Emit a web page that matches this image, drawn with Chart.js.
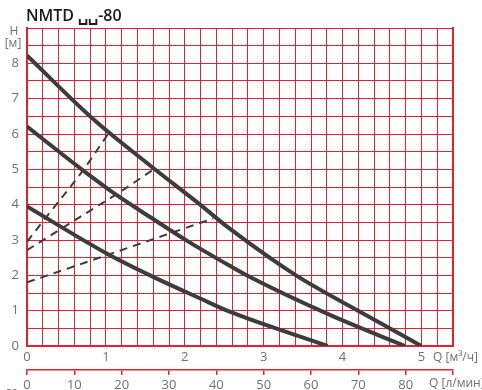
<!DOCTYPE html>
<html>
<head>
<meta charset="utf-8">
<script src="https://cdn.jsdelivr.net/npm/chart.js@4.4.1/dist/chart.umd.min.js"></script>
<style>
  html, body { margin: 0; padding: 0; background: #fff; overflow: hidden; }
  #wrap { width: 482px; height: 390px; }
  canvas { display: block; }
</style>
</head>
<body>
<div id="wrap"><canvas id="pumpChart" width="482" height="390"></canvas></div>
<script>
// pump curves, Q in m3/h, H in m
const qTop = [0, 0.86, 1.56, 2.19, 2.57, 3.41, 4.22, 5.0];
const hTop = [8.22, 6.38, 5.11, 4.01, 3.32, 2.0, 0.97, 0];
const qMid = [0, 0.71, 1.11, 1.56, 2.02, 2.57, 2.82, 3.84, 4.79];
const hMid = [6.21, 4.97, 4.31, 3.65, 2.99, 2.27, 1.96, 0.88, 0];
const qLow = [0, 1.01, 1.56, 2.19, 2.57, 3.81];
const hLow = [3.95, 2.62, 2.0, 1.35, 0.97, 0];

// dashed system curves
const qSys1 = [0, 0.33, 0.71, 1.03];
const hSys1 = [2.95, 3.89, 4.97, 6.01];
const qSys2 = [0, 0.67, 1.13, 1.62];
const hSys2 = [2.71, 3.65, 4.29, 5.02];
const qSys3 = [0, 1.01, 2.36];
const hSys3 = [1.8, 2.57, 3.61];

const qTicks = [0, 1, 2, 3, 4, 5];
const lminTicks = [0, 10, 20, 30, 40, 50, 60, 70, 80];
const hTicks = [0, 1, 2, 3, 4, 5, 6, 7, 8];

const gridRed = "#e3222f";
const lineGrey = "#3c3c3c";
const labelGrey = "#707070";
const font = "'Open Sans', sans-serif";

function pts(q, h) {
  let out = [];
  for (let i = 0; i < q.length; i++) {
    out.push({ x: q[i], y: h[i] });
  }
  return out;
}

function pumpSet(q, h) {
  return {
    data: pts(q, h),
    showLine: true,
    borderColor: lineGrey,
    borderWidth: 4,
    pointRadius: 0,
    cubicInterpolationMode: "monotone",
    borderCapStyle: "butt",
  };
}

function sysSet(q, h) {
  return {
    data: pts(q, h),
    showLine: true,
    borderColor: lineGrey,
    borderWidth: 2,
    borderDash: [8, 6],
    pointRadius: 0,
    cubicInterpolationMode: "monotone",
  };
}

const near = (v, list) => list.find((t) => Math.abs(t - v) < 1e-6);

const extraText = {
  id: "extraText",
  afterDraw(chart) {
    const c = chart.ctx;
    c.save();
    c.fillStyle = "#1a1a1a";
    c.font = "600 16px " + font;
    c.textBaseline = "alphabetic";
    c.textAlign = "left";
    c.fillText("NMTD \u2423\u2423-80", 26, 21);

    c.fillStyle = labelGrey;
    c.font = "12px " + font;
    c.textAlign = "center";
    c.fillText("H", 14, 35);
    c.fillText("[м]", 13, 47);

    c.textAlign = "left";
    c.font = "12px " + font;
    c.fillText("Q [м³/ч]", 433, 361);
    c.fillText("Q [л/мин]", 429, 387);

    c.font = "10px " + font;
    c.fillText("P3", 6, 397);
    c.restore();
  },
};

const ctx = document.getElementById("pumpChart").getContext("2d");
const pumpChart = new Chart(ctx, {
  type: "scatter",
  data: {
    datasets: [
      pumpSet(qTop, hTop),
      pumpSet(qMid, hMid),
      pumpSet(qLow, hLow),
      sysSet(qSys1, hSys1),
      sysSet(qSys2, hSys2),
      sysSet(qSys3, hSys3),
    ],
  },
  options: {
    responsive: false,
    animation: false,
    layout: { padding: { top: 28, right: 29, left: 0, bottom: 0 } },
    plugins: {
      legend: { display: false },
      tooltip: { enabled: false },
    },
    scales: {
      x: {
        type: "linear",
        position: "bottom",
        min: 0,
        max: 5.4,
        afterFit: (s) => { s.height = 24; },
        ticks: {
          stepSize: 0.2,
          autoSkip: false,
          maxRotation: 0,
          padding: 3,
          color: labelGrey,
          font: { family: font, size: 13 },
          callback: (v) => { const t = near(v, qTicks); return t === undefined ? "" : t; },
        },
        grid: { color: gridRed, lineWidth: 1, drawTicks: false },
        border: { color: gridRed, width: 2 },
      },
      x2: {
        type: "linear",
        position: "bottom",
        min: 0,
        max: 90,
        afterFit: (s) => { s.height = 20; },
        ticks: {
          stepSize: 10,
          autoSkip: false,
          maxRotation: 0,
          padding: 2,
          color: labelGrey,
          font: { family: font, size: 13 },
          callback: (v) => { const t = near(v, lminTicks); return t === undefined ? "" : t; },
        },
        grid: { color: gridRed, lineWidth: 1.5, drawOnChartArea: false, tickLength: 5 },
        border: { color: gridRed, width: 1.5 },
      },
      y: {
        type: "linear",
        min: 0,
        max: 9,
        afterFit: (s) => { s.width = 27; },
        ticks: {
          stepSize: 0.5,
          autoSkip: false,
          padding: 8,
          color: labelGrey,
          font: { family: font, size: 13 },
          callback: (v) => { const t = near(v, hTicks); return t === undefined ? "" : t; },
        },
        grid: { color: gridRed, lineWidth: 1, drawTicks: false },
        border: { color: gridRed, width: 2 },
      },
      yRight: {
        type: "linear",
        position: "right",
        min: 0,
        max: 9,
        display: true,
        afterFit: (s) => { s.width = 0; },
        ticks: { display: false },
        grid: { display: false, drawTicks: false },
        border: { color: gridRed, width: 2 },
      },
    },
  },
  plugins: [extraText],
});
</script>
</body>
</html>
